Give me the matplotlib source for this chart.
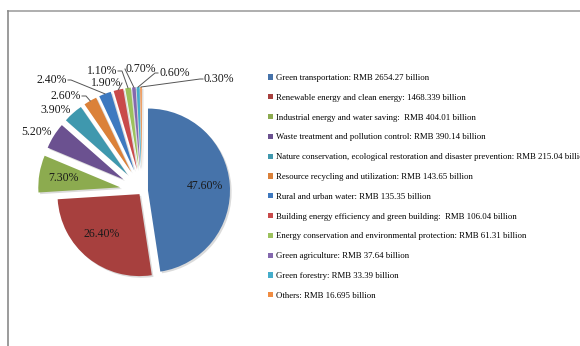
import numpy as np
import matplotlib.pyplot as plt
from matplotlib.lines import Line2D
import matplotlib.patheffects as pe

plt.rcParams['font.family'] = ['Liberation Serif', 'DejaVu Serif']

# --- data ---
categories = [
    "Green transportation: RMB 2654.27 billion",
    "Renewable energy and clean energy: 1468.339 billion",
    "Industrial energy and water saving:  RMB 404.01 billion",
    "Waste treatment and pollution control: RMB 390.14 billion",
    "Nature conservation, ecological restoration and disaster prevention: RMB 215.04 billion",
    "Resource recycling and utilization: RMB 143.65 billion",
    "Rural and urban water: RMB 135.35 billion",
    "Building energy efficiency and green building:  RMB 106.04 billion",
    "Energy conservation and environmental protection: RMB 61.31 billion",
    "Green agriculture: RMB 37.64 billion",
    "Green forestry: RMB 33.39 billion",
    "Others: RMB 16.695 billion",
]
shares = [47.6, 26.4, 7.3, 5.2, 3.9, 2.6, 2.4, 1.9, 1.1, 0.7, 0.6, 0.3]
pct_labels = ["%.2f%%" % s for s in shares]

colors = ["#4673AA", "#A7403E", "#8CAB4F", "#6B5190", "#3F98AE", "#DB8139",
          "#3D79C0", "#C94A4A", "#9CC25D", "#8468AE", "#45ADCB", "#F08C42"]

W, H = 580, 346
R = 82
# explode distances in pixels (pie() takes them in data units)
explode = [6, 4] + [22] * 10

fig = plt.figure(figsize=(W / 100, H / 100), dpi=100)
ax = fig.add_axes([0, 0, 1, 1])

cx, cy = 142, H - 191
wedges, _ = ax.pie(shares, explode=explode, colors=colors, startangle=90,
                   counterclock=False, radius=R, center=(cx, cy),
                   wedgeprops=dict(linewidth=0))
# soft drop shadow like the office chart style
for w in wedges:
    w.set_path_effects([pe.SimplePatchShadow(offset=(1.2, -1.2), shadow_rgbFace='#999999', alpha=0.35),
                        pe.Normal()])
ax.set_xlim(0, W)
ax.set_ylim(0, H)
ax.set_aspect('equal')
ax.axis('off')

# frame of the chart area (pixel coords, y down)
ax.add_line(Line2D([8, W], [H - 10.5, H - 10.5], color="#A8A8A8", lw=1.3))
ax.add_line(Line2D([8, 8], [H - 10.5, 0], color="#8A8A8A", lw=1.2))

# label placement: (x, y in pixels from top, ha, elbow) ; None = inside label
label_layout = [None, None, None,
                (37, 132, 'center', None),
                (56, 110, 'center', None),
                (81, 96, 'right', 4),
                (67, 80, 'right', 3),
                (121, 83, 'right', 0),
                (117, 71, 'right', 4),
                (126, 69, 'left', 0),
                (159, 73, 'left', -3),
                (204, 79, 'left', -3)]
inner_frac = [0.7, 0.62, 0.7]

for i, (w, txt, lay) in enumerate(zip(wedges, pct_labels, label_layout)):
    mid = np.deg2rad((w.theta1 + w.theta2) / 2)
    wx, wy = w.center
    if lay is None:
        f = inner_frac[i]
        ax.text(wx + f * R * np.cos(mid) - (6 if i == 1 else 0), wy + f * R * np.sin(mid), txt,
                ha='center', va='center', fontsize=8.5, color="#1a1a1a")
        continue
    x, y, ha, elbow = lay
    y = H - y
    ax.text(x, y, txt, ha=ha, va='center', fontsize=8.5, color="#1a1a1a")
    if elbow is None:
        continue
    ax_, ay_ = wx + R * np.cos(mid), wy + R * np.sin(mid)
    pad = 1 if ha == 'right' else -1
    xs = [x + pad, x + pad + elbow, ax_]
    ys = [y, y, ay_]
    ax.add_line(Line2D(xs, ys, color="#555555", lw=0.7))

leg = fig.legend(wedges, categories, loc='upper left',
                 bbox_to_anchor=(268 / W, 1 - 74 / H), frameon=False,
                 fontsize=6.3, handlelength=0.55, handleheight=0.55,
                 handletextpad=0.4, labelspacing=1.35, borderaxespad=0,
                 borderpad=0)
for h in leg.legend_handles:
    h.set_path_effects([])

fig.savefig("out.png", dpi=100)
